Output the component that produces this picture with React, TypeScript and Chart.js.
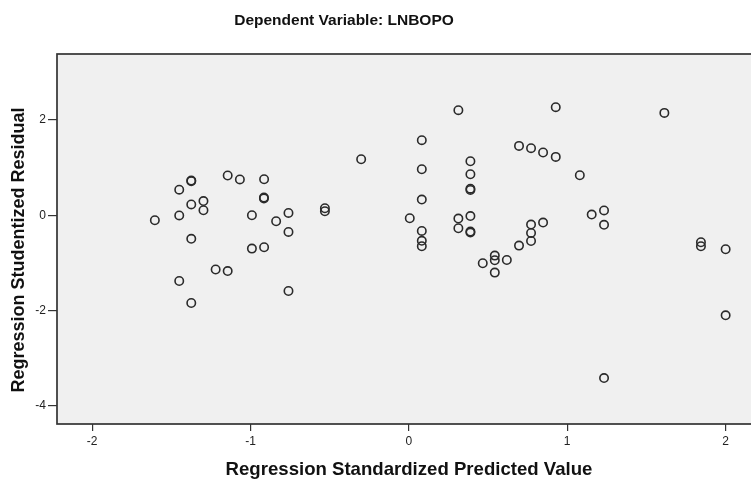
import React, { useEffect, useRef } from "react";
import { Chart, registerables } from "chart.js";

Chart.register(...registerables);

const chartTitle = "Dependent Variable: LNBOPO";
const xAxisTitle = "Regression Standardized Predicted Value";
const yAxisTitle = "Regression Studentized Residual";

const xTickValues = [-2, -1, 0, 1, 2];
const yTickValues = [-4, -2, 0, 2];

const predictedValues = [
  -1.604, -1.45, -1.45, -1.45, -1.374, -1.374, -1.374, -1.374, -1.374, -1.297,
  -1.297, -1.22, -1.144, -1.144, -1.067, -0.991, -0.991, -0.914, -0.915, -0.915,
  -0.914, -0.838, -0.76, -0.76, -0.76, -0.53, -0.53, -0.301, 0.006, 0.082,
  0.082, 0.082, 0.082, 0.082, 0.082, 0.313, 0.313, 0.313, 0.389, 0.389,
  0.389, 0.389, 0.389, 0.389, 0.389, 0.467, 0.543, 0.543, 0.543, 0.619,
  0.696, 0.696, 0.772, 0.772, 0.772, 0.772, 0.848, 0.848, 0.928, 0.928,
  1.08, 1.155, 1.233, 1.233, 1.233, 1.614, 1.845, 1.845, 2.001, 2.001,
];

const studentizedResiduals = [
  -0.105, 0.536, -0.004, -1.38, 0.729, 0.716, 0.227, -0.494, -1.842, 0.298,
  0.105, -1.139, 0.834, -1.172, 0.752, 0.0, -0.7, 0.756, 0.372, 0.353,
  -0.672, -0.126, 0.048, -0.351, -1.59, 0.147, 0.084, 1.176, -0.063, 1.576,
  0.966, 0.33, -0.33, -0.536, -0.651, 2.206, -0.069, -0.273, 1.134, 0.861,
  0.557, 0.532, -0.017, -0.342, -0.363, -1.008, -0.847, -0.945, -1.204, -0.939,
  1.456, -0.637, 1.408, -0.195, -0.372, -0.54, 1.317, -0.153, 2.269, 1.225,
  0.84, 0.015, 0.101, -0.2, -3.418, 2.149, -0.567, -0.651, -0.714, -2.101,
];

const FONT = "'Liberation Sans', Arial, sans-serif";

const framePlugin = {
  id: "spssFrame",
  beforeDraw(chart: any) {
    const { ctx, chartArea, width, height } = chart;
    ctx.save();
    ctx.fillStyle = "#ffffff";
    ctx.fillRect(0, 0, width, height);
    ctx.fillStyle = "#f0f0f0";
    ctx.fillRect(
      chartArea.left,
      chartArea.top,
      chartArea.right - chartArea.left,
      chartArea.bottom - chartArea.top
    );
    ctx.restore();
  },
  afterDraw(chart: any) {
    const { ctx, chartArea } = chart;
    ctx.save();
    ctx.strokeStyle = "#333333";
    ctx.lineWidth = 1.7;
    ctx.strokeRect(
      chartArea.left,
      chartArea.top,
      chartArea.right - chartArea.left,
      chartArea.bottom - chartArea.top
    );
    ctx.fillStyle = "#111111";
    ctx.textAlign = "center";
    ctx.textBaseline = "middle";
    ctx.font = `bold 15.5px ${FONT}`;
    ctx.fillText(chartTitle, 344, 21);
    ctx.font = `bold 18.6px ${FONT}`;
    ctx.fillText(xAxisTitle, 409, 470);
    ctx.font = `bold 18px ${FONT}`;
    ctx.translate(19, 250);
    ctx.rotate(-Math.PI / 2);
    ctx.fillText(yAxisTitle, 0, 0);
    ctx.restore();
  },
};

export default function App() {
  const canvasRef = useRef<HTMLCanvasElement | null>(null);

  useEffect(() => {
    if (!canvasRef.current) return;
    const points = predictedValues.map((x, i) => ({ x, y: studentizedResiduals[i] }));
    const chart = new Chart(canvasRef.current, {
      type: "scatter",
      data: {
        datasets: [
          {
            data: points,
            pointStyle: "circle",
            pointRadius: 4.2,
            pointHoverRadius: 4.2,
            pointBorderWidth: 1.6,
            borderColor: "#2a2a2a",
            backgroundColor: "rgba(0,0,0,0)",
          },
        ],
      },
      options: {
        responsive: false,
        animation: false,
        devicePixelRatio: 1,
        layout: { padding: { top: 54, left: 0, right: 10, bottom: 0 } },
        plugins: {
          legend: { display: false },
          title: { display: false },
          tooltip: { enabled: false },
        },
        scales: {
          x: {
            type: "linear",
            min: -2.222,
            max: 2.218,
            border: { display: false },
            grid: {
              drawOnChartArea: false,
              drawTicks: true,
              tickLength: 7,
              color: "#333333",
              lineWidth: 1.2,
            },
            ticks: {
              padding: 3,
              color: "#222222",
              font: { family: FONT, size: 12 },
            },
            afterBuildTicks(scale: any) {
              scale.ticks = xTickValues.map((v) => ({ value: v }));
            },
            afterFit(scale: any) {
              scale.height = 62;
            },
          },
          y: {
            type: "linear",
            min: -4.382,
            max: 3.385,
            border: { display: false },
            grid: {
              drawOnChartArea: false,
              drawTicks: true,
              tickLength: 9,
              color: "#333333",
              lineWidth: 1.2,
            },
            ticks: {
              padding: 2,
              color: "#222222",
              font: { family: FONT, size: 12 },
            },
            afterBuildTicks(scale: any) {
              scale.ticks = yTickValues.map((v) => ({ value: v }));
            },
            afterFit(scale: any) {
              scale.width = 57;
            },
          },
        },
      },
      plugins: [framePlugin],
    });
    return () => chart.destroy();
  }, []);

  return (
    <div
      style={{
        position: "fixed",
        left: 0,
        top: 0,
        width: 751,
        height: 486,
        overflow: "hidden",
        background: "#ffffff",
      }}
    >
      <canvas ref={canvasRef} width={770} height={486} style={{ display: "block" }} />
    </div>
  );
}
